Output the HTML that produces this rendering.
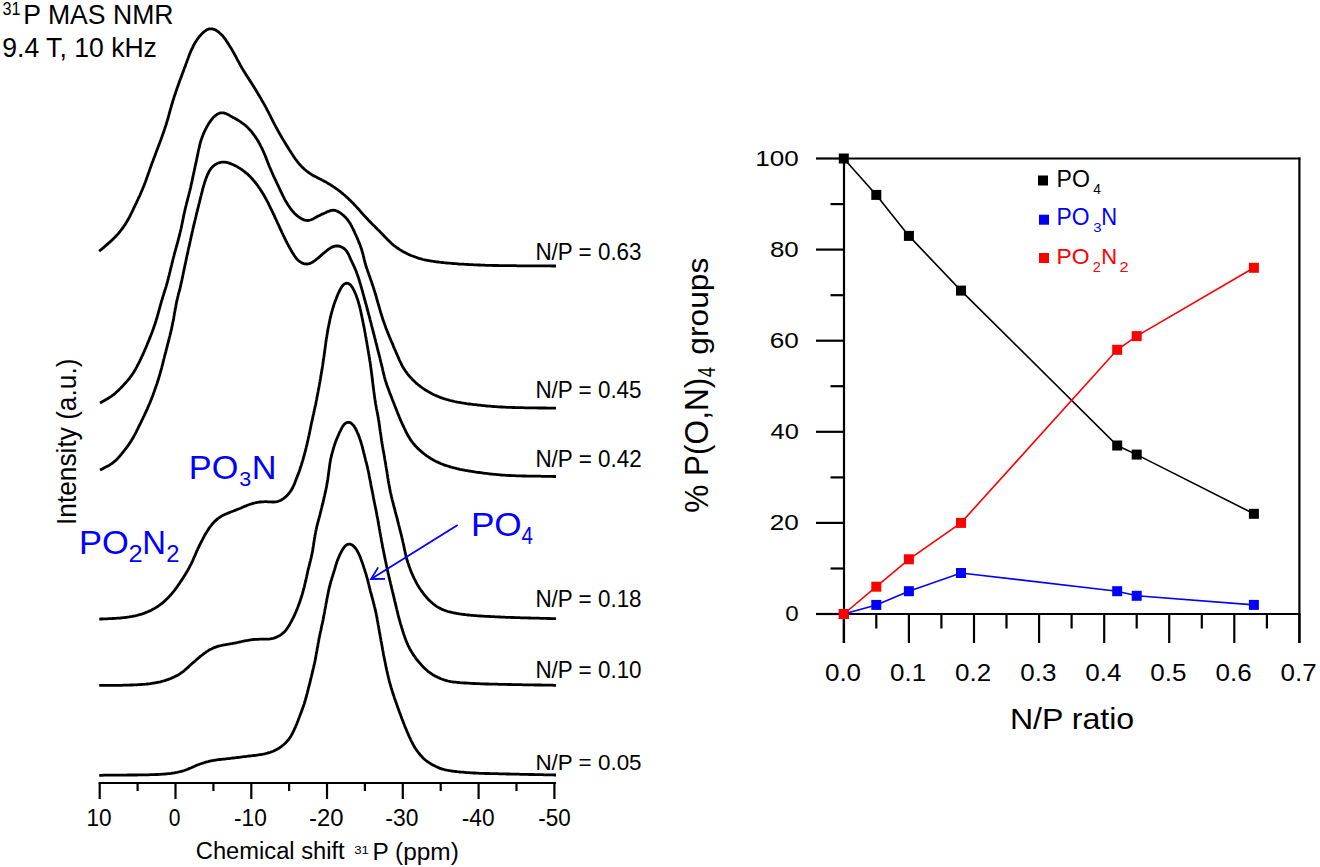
<!DOCTYPE html>
<html><head><meta charset="utf-8"><style>
html,body{margin:0;padding:0;background:#fff;width:1320px;height:867px;overflow:hidden}
svg{display:block}
text{font-family:"Liberation Sans", sans-serif;fill:#000}
</style></head><body>
<svg width="1320" height="867" viewBox="0 0 1320 867">
<rect width="1320" height="867" fill="#fff"/>
<g fill="none" stroke="#000" stroke-width="2.8" stroke-linejoin="round" stroke-linecap="butt">
<path d="M99.2,251.2 L100.3,250.2 101.5,249.3 102.6,248.3 103.8,247.3 104.9,246.4 106.1,245.4 107.2,244.4 108.3,243.4 109.5,242.4 110.6,241.4 111.7,240.4 112.8,239.4 113.8,238.3 114.9,237.3 115.9,236.2 117.0,235.1 118.0,234.0 118.9,232.8 119.9,231.7 120.8,230.5 121.7,229.3 122.6,228.1 123.5,226.9 124.3,225.7 125.2,224.4 126.0,223.1 126.7,221.9 127.5,220.6 128.2,219.3 129.0,217.9 129.7,216.6 130.3,215.3 131.0,213.9 131.7,212.6 132.3,211.3 133.0,209.9 133.6,208.5 134.3,207.2 134.9,205.8 135.5,204.5 136.2,203.1 136.8,201.8 137.5,200.4 138.1,199.0 138.7,197.7 139.4,196.3 140.0,195.0 140.6,193.6 141.2,192.2 141.8,190.8 142.4,189.5 142.9,188.1 143.5,186.7 144.1,185.3 144.6,183.9 145.2,182.5 145.7,181.1 146.2,179.7 146.7,178.3 147.2,176.9 147.7,175.4 148.2,174.0 148.7,172.6 149.2,171.2 149.7,169.8 150.2,168.4 150.7,167.0 151.2,165.5 151.7,164.1 152.2,162.7 152.8,161.3 153.3,159.9 153.8,158.5 154.3,157.1 154.9,155.7 155.4,154.3 155.9,152.9 156.4,151.5 157.0,150.1 157.5,148.7 158.0,147.3 158.6,145.9 159.1,144.5 159.6,143.1 160.1,141.7 160.7,140.2 161.2,138.8 161.7,137.4 162.2,136.0 162.7,134.6 163.2,133.2 163.7,131.8 164.2,130.4 164.7,128.9 165.1,127.5 165.6,126.1 166.1,124.7 166.5,123.2 166.9,121.8 167.4,120.4 167.8,118.9 168.2,117.5 168.6,116.0 169.0,114.6 169.4,113.1 169.8,111.7 170.2,110.2 170.6,108.8 171.0,107.4 171.4,105.9 171.8,104.5 172.3,103.0 172.7,101.6 173.1,100.2 173.6,98.7 174.0,97.3 174.5,95.9 175.0,94.5 175.5,93.0 175.9,91.6 176.4,90.2 176.9,88.8 177.4,87.4 177.9,86.0 178.4,84.5 178.9,83.1 179.4,81.7 179.9,80.3 180.5,78.9 181.0,77.5 181.5,76.1 182.0,74.7 182.5,73.3 183.1,71.9 183.6,70.5 184.1,69.1 184.6,67.6 185.2,66.2 185.7,64.8 186.2,63.4 186.7,62.0 187.2,60.6 187.7,59.2 188.3,57.8 188.8,56.4 189.3,55.0 189.9,53.6 190.4,52.2 191.0,50.8 191.6,49.5 192.3,48.1 192.9,46.8 193.6,45.4 194.3,44.1 195.1,42.8 195.9,41.5 196.7,40.3 197.5,39.0 198.4,37.8 199.3,36.7 200.3,35.5 201.3,34.4 202.4,33.3 203.4,32.3 204.6,31.4 205.8,30.5 207.0,29.8 208.3,29.2 209.6,28.9 211.0,28.8 212.4,28.9 213.8,29.3 215.1,29.8 216.4,30.5 217.6,31.3 218.8,32.2 219.9,33.2 221.0,34.2 222.1,35.2 223.1,36.4 224.0,37.5 224.9,38.7 225.8,39.9 226.6,41.2 227.4,42.4 228.3,43.7 229.0,44.9 229.8,46.2 230.6,47.5 231.4,48.8 232.2,50.1 232.9,51.4 233.7,52.7 234.4,54.0 235.1,55.3 235.8,56.6 236.5,57.9 237.2,59.3 237.9,60.6 238.6,61.9 239.3,63.2 240.0,64.6 240.8,65.9 241.5,67.2 242.2,68.5 243.0,69.8 243.8,71.1 244.6,72.3 245.4,73.6 246.2,74.9 247.0,76.1 247.8,77.4 248.6,78.6 249.4,79.9 250.3,81.2 251.1,82.4 251.9,83.7 252.7,85.0 253.5,86.2 254.3,87.5 255.0,88.8 255.8,90.1 256.6,91.4 257.4,92.6 258.1,93.9 258.9,95.2 259.7,96.5 260.4,97.8 261.2,99.1 261.9,100.4 262.7,101.7 263.4,103.0 264.2,104.3 264.9,105.6 265.6,106.9 266.3,108.2 267.0,109.6 267.7,110.9 268.4,112.2 269.1,113.6 269.8,114.9 270.5,116.2 271.1,117.6 271.8,118.9 272.5,120.3 273.1,121.6 273.8,122.9 274.5,124.3 275.2,125.6 275.9,126.9 276.6,128.2 277.3,129.6 278.1,130.9 278.8,132.2 279.5,133.5 280.3,134.8 281.0,136.1 281.8,137.4 282.6,138.7 283.3,140.0 284.1,141.3 284.9,142.5 285.6,143.8 286.4,145.1 287.2,146.4 288.0,147.6 288.8,148.9 289.6,150.2 290.4,151.4 291.2,152.7 292.1,154.0 292.9,155.2 293.7,156.5 294.5,157.7 295.4,159.0 296.3,160.2 297.2,161.4 298.1,162.5 299.0,163.7 300.0,164.8 301.0,165.9 302.1,167.0 303.1,168.0 304.2,169.1 305.4,170.0 306.5,171.0 307.7,171.9 308.9,172.8 310.2,173.6 311.4,174.4 312.7,175.2 314.0,175.9 315.3,176.6 316.7,177.3 318.0,178.0 319.4,178.7 320.7,179.3 322.0,180.0 323.4,180.7 324.7,181.4 326.0,182.1 327.3,182.9 328.6,183.7 329.9,184.4 331.1,185.2 332.4,186.0 333.6,186.9 334.9,187.7 336.1,188.6 337.3,189.4 338.5,190.3 339.7,191.2 340.9,192.2 342.1,193.1 343.2,194.1 344.4,195.0 345.5,196.0 346.6,197.0 347.7,198.0 348.8,199.1 349.9,200.1 351.0,201.2 352.0,202.2 353.1,203.3 354.1,204.4 355.2,205.5 356.2,206.6 357.2,207.7 358.2,208.8 359.2,209.9 360.2,211.0 361.1,212.2 362.1,213.3 363.1,214.4 364.1,215.5 365.1,216.6 366.2,217.7 367.2,218.8 368.2,219.9 369.3,221.0 370.3,222.1 371.4,223.1 372.4,224.2 373.5,225.3 374.6,226.3 375.6,227.4 376.7,228.4 377.7,229.5 378.8,230.5 379.9,231.6 380.9,232.7 382.0,233.7 383.0,234.8 384.0,235.9 385.1,237.0 386.1,238.1 387.2,239.2 388.2,240.2 389.3,241.3 390.3,242.3 391.4,243.3 392.6,244.3 393.7,245.3 394.9,246.2 396.1,247.1 397.3,248.0 398.6,248.8 399.8,249.6 401.1,250.4 402.4,251.2 403.7,251.9 405.0,252.6 406.3,253.3 407.7,254.0 409.1,254.6 410.4,255.2 411.8,255.8 413.2,256.3 414.6,256.8 416.0,257.3 417.4,257.8 418.9,258.3 420.3,258.7 421.8,259.1 423.2,259.5 424.7,259.8 426.1,260.1 427.6,260.4 429.1,260.7 430.5,261.0 432.0,261.2 433.5,261.4 435.0,261.6 436.5,261.8 438.0,262.0 439.5,262.2 441.0,262.3 442.4,262.5 443.9,262.7 445.4,262.8 446.9,263.0 448.4,263.1 449.9,263.2 451.4,263.4 452.9,263.5 454.4,263.6 455.9,263.7 457.4,263.8 458.9,264.0 460.4,264.1 461.9,264.2 463.4,264.2 464.9,264.3 466.4,264.4 467.9,264.5 469.4,264.6 470.9,264.6 472.4,264.7 473.9,264.8 475.4,264.9 476.9,264.9 478.3,265.0 479.8,265.0 481.3,265.1 482.8,265.1 484.3,265.2 485.8,265.3 487.3,265.3 488.8,265.3 490.3,265.4 491.8,265.4 493.3,265.5 494.8,265.5 496.3,265.5 497.8,265.5 499.3,265.6 500.8,265.6 502.3,265.6 503.8,265.6 505.3,265.6 506.8,265.7 508.3,265.7 509.8,265.7 511.3,265.7 512.8,265.7 514.3,265.7 515.8,265.7 517.3,265.8 518.8,265.8 520.3,265.8 521.8,265.8 523.3,265.8 524.8,265.8 526.3,265.8 527.8,265.8 529.3,265.8 530.8,265.8 532.3,265.8 533.8,265.8 535.3,265.9 536.8,265.9 538.3,265.9 539.8,265.9 541.3,265.9 542.8,265.9 544.3,265.9 545.8,265.9 547.3,265.9 548.8,265.9 550.3,265.9 551.8,266.0 553.2,266.0 554.6,266.0 556.0,266.0"/>
<path d="M100.0,402.9 L101.3,402.2 102.6,401.5 104.0,400.8 105.3,400.0 106.6,399.3 107.9,398.5 109.1,397.8 110.4,396.9 111.6,396.1 112.8,395.2 114.0,394.3 115.2,393.3 116.3,392.3 117.4,391.3 118.5,390.3 119.5,389.2 120.6,388.2 121.7,387.1 122.7,386.0 123.7,384.9 124.7,383.8 125.7,382.7 126.7,381.6 127.7,380.4 128.7,379.3 129.6,378.1 130.5,376.9 131.4,375.7 132.2,374.5 133.1,373.2 133.9,372.0 134.6,370.7 135.4,369.4 136.1,368.1 136.8,366.8 137.5,365.4 138.2,364.1 138.9,362.8 139.6,361.4 140.2,360.1 140.9,358.7 141.5,357.4 142.1,356.0 142.8,354.6 143.4,353.3 144.0,351.9 144.6,350.5 145.2,349.2 145.8,347.8 146.4,346.4 147.0,345.0 147.5,343.6 148.1,342.2 148.7,340.9 149.2,339.5 149.8,338.1 150.3,336.7 150.9,335.3 151.4,333.9 152.0,332.5 152.5,331.1 153.0,329.7 153.5,328.2 154.0,326.8 154.5,325.4 155.0,324.0 155.4,322.6 155.9,321.1 156.3,319.7 156.8,318.3 157.2,316.8 157.6,315.4 158.0,314.0 158.4,312.5 158.8,311.1 159.2,309.6 159.6,308.2 160.0,306.7 160.4,305.3 160.8,303.8 161.2,302.4 161.6,300.9 162.1,299.5 162.5,298.1 162.9,296.6 163.4,295.2 163.8,293.8 164.3,292.3 164.7,290.9 165.2,289.5 165.6,288.0 166.1,286.6 166.5,285.2 166.9,283.7 167.3,282.3 167.7,280.8 168.1,279.4 168.4,277.9 168.8,276.5 169.2,275.0 169.5,273.6 169.9,272.1 170.2,270.7 170.6,269.2 170.9,267.7 171.3,266.3 171.7,264.8 172.0,263.4 172.4,261.9 172.7,260.5 173.1,259.0 173.5,257.5 173.9,256.1 174.2,254.6 174.6,253.2 175.0,251.7 175.4,250.3 175.8,248.9 176.2,247.4 176.6,246.0 177.0,244.5 177.4,243.1 177.8,241.6 178.2,240.2 178.5,238.7 178.9,237.3 179.3,235.8 179.7,234.4 180.0,232.9 180.4,231.4 180.7,230.0 181.1,228.5 181.4,227.1 181.7,225.6 182.0,224.1 182.3,222.7 182.6,221.2 182.9,219.7 183.2,218.3 183.5,216.8 183.8,215.3 184.1,213.8 184.5,212.4 184.8,210.9 185.1,209.5 185.4,208.0 185.8,206.5 186.2,205.1 186.5,203.6 186.9,202.2 187.3,200.7 187.6,199.3 188.0,197.8 188.4,196.4 188.8,194.9 189.1,193.5 189.5,192.0 189.9,190.5 190.2,189.1 190.6,187.6 190.9,186.2 191.2,184.7 191.6,183.2 191.9,181.8 192.2,180.3 192.5,178.8 192.8,177.4 193.1,175.9 193.4,174.4 193.8,173.0 194.1,171.5 194.4,170.0 194.7,168.6 195.0,167.1 195.3,165.6 195.6,164.2 196.0,162.7 196.3,161.2 196.6,159.8 196.9,158.3 197.2,156.8 197.5,155.4 197.8,153.9 198.1,152.4 198.4,151.0 198.7,149.5 199.1,148.0 199.4,146.6 199.7,145.1 200.1,143.7 200.5,142.2 200.9,140.8 201.4,139.4 201.9,137.9 202.4,136.5 203.0,135.1 203.5,133.7 204.1,132.4 204.7,131.0 205.4,129.7 206.1,128.3 206.7,127.0 207.5,125.7 208.2,124.4 209.0,123.1 209.9,121.9 210.7,120.7 211.7,119.5 212.6,118.3 213.6,117.3 214.7,116.2 215.8,115.3 217.0,114.4 218.2,113.7 219.5,113.2 220.9,112.8 222.3,112.8 223.7,112.9 225.0,113.3 226.4,113.8 227.7,114.4 229.0,115.1 230.3,115.9 231.6,116.6 232.9,117.4 234.2,118.1 235.5,118.8 236.8,119.6 238.1,120.3 239.4,121.1 240.7,121.9 241.9,122.8 243.1,123.6 244.3,124.5 245.5,125.5 246.6,126.5 247.7,127.5 248.7,128.6 249.7,129.7 250.7,130.8 251.7,131.9 252.6,133.1 253.5,134.3 254.4,135.5 255.3,136.7 256.1,138.0 256.9,139.2 257.7,140.5 258.5,141.8 259.2,143.1 259.9,144.4 260.6,145.8 261.3,147.1 262.0,148.4 262.6,149.8 263.2,151.2 263.8,152.5 264.4,153.9 265.0,155.3 265.6,156.7 266.1,158.1 266.7,159.5 267.2,160.9 267.7,162.3 268.3,163.7 268.8,165.1 269.4,166.5 270.0,167.8 270.6,169.2 271.2,170.6 271.8,172.0 272.4,173.3 273.0,174.7 273.6,176.1 274.2,177.4 274.9,178.8 275.5,180.2 276.2,181.5 276.8,182.9 277.4,184.2 278.1,185.6 278.7,186.9 279.4,188.3 280.0,189.6 280.6,191.0 281.3,192.4 281.9,193.7 282.6,195.1 283.2,196.4 283.9,197.7 284.6,199.1 285.3,200.4 286.1,201.7 286.9,203.0 287.6,204.2 288.4,205.5 289.3,206.8 290.1,208.0 291.0,209.2 291.9,210.4 292.9,211.5 293.9,212.6 294.9,213.7 296.0,214.7 297.1,215.7 298.3,216.6 299.5,217.5 300.8,218.3 302.0,219.0 303.4,219.6 304.7,220.1 306.1,220.4 307.5,220.5 308.9,220.4 310.3,220.0 311.7,219.5 313.0,218.9 314.3,218.2 315.6,217.5 316.9,216.8 318.2,216.1 319.6,215.4 320.9,214.8 322.3,214.1 323.7,213.5 325.0,212.9 326.4,212.2 327.7,211.6 329.1,211.1 330.4,210.6 331.8,210.3 333.2,210.2 334.6,210.4 336.0,210.7 337.3,211.2 338.6,211.9 339.9,212.7 341.1,213.5 342.3,214.5 343.4,215.4 344.5,216.4 345.6,217.5 346.6,218.6 347.5,219.7 348.4,220.9 349.3,222.2 350.1,223.4 350.8,224.7 351.6,226.0 352.2,227.4 352.9,228.7 353.5,230.0 354.2,231.4 354.8,232.8 355.4,234.1 356.1,235.5 356.7,236.9 357.3,238.2 357.9,239.6 358.4,241.0 359.0,242.4 359.6,243.8 360.1,245.2 360.6,246.6 361.1,248.0 361.6,249.4 362.0,250.9 362.4,252.3 362.8,253.7 363.2,255.2 363.5,256.7 363.9,258.1 364.2,259.6 364.6,261.0 365.0,262.5 365.4,263.9 365.8,265.4 366.2,266.8 366.7,268.2 367.2,269.6 367.7,271.1 368.2,272.5 368.7,273.9 369.2,275.3 369.7,276.7 370.2,278.1 370.7,279.6 371.2,281.0 371.7,282.4 372.1,283.8 372.6,285.2 373.1,286.6 373.6,288.1 374.0,289.5 374.5,290.9 374.9,292.4 375.3,293.8 375.8,295.2 376.2,296.7 376.6,298.1 377.0,299.6 377.4,301.0 377.8,302.5 378.2,303.9 378.6,305.3 379.1,306.8 379.5,308.2 379.9,309.7 380.3,311.1 380.7,312.5 381.2,314.0 381.6,315.4 382.1,316.8 382.5,318.3 383.0,319.7 383.5,321.1 384.0,322.5 384.5,323.9 385.0,325.4 385.5,326.8 386.0,328.2 386.6,329.6 387.1,331.0 387.7,332.4 388.2,333.7 388.8,335.1 389.3,336.5 389.9,337.9 390.5,339.3 391.1,340.7 391.7,342.1 392.3,343.4 392.9,344.8 393.4,346.2 394.0,347.6 394.6,349.0 395.2,350.3 395.8,351.7 396.4,353.1 397.0,354.5 397.6,355.9 398.2,357.2 398.8,358.6 399.4,360.0 400.0,361.3 400.7,362.7 401.3,364.0 402.0,365.4 402.7,366.7 403.5,368.0 404.3,369.2 405.1,370.5 405.9,371.7 406.8,372.9 407.7,374.1 408.7,375.3 409.6,376.4 410.6,377.5 411.7,378.6 412.7,379.7 413.8,380.8 414.8,381.8 415.9,382.8 417.1,383.8 418.2,384.8 419.4,385.7 420.6,386.6 421.8,387.5 423.0,388.4 424.2,389.2 425.5,390.0 426.8,390.8 428.1,391.6 429.4,392.3 430.7,393.0 432.0,393.7 433.4,394.4 434.7,395.0 436.1,395.6 437.5,396.2 438.8,396.8 440.2,397.4 441.6,397.9 443.1,398.4 444.5,398.8 445.9,399.3 447.4,399.7 448.8,400.1 450.3,400.5 451.7,400.8 453.2,401.1 454.6,401.5 456.1,401.8 457.6,402.1 459.1,402.3 460.5,402.6 462.0,402.9 463.5,403.1 465.0,403.3 466.4,403.6 467.9,403.8 469.4,404.0 470.9,404.2 472.4,404.4 473.9,404.6 475.4,404.7 476.9,404.9 478.4,405.1 479.8,405.2 481.3,405.4 482.8,405.6 484.3,405.7 485.8,405.8 487.3,406.0 488.8,406.1 490.3,406.2 491.8,406.4 493.3,406.5 494.8,406.6 496.3,406.7 497.8,406.8 499.3,406.9 500.8,407.0 502.3,407.0 503.8,407.1 505.3,407.2 506.8,407.3 508.3,407.3 509.8,407.4 511.3,407.4 512.8,407.5 514.3,407.5 515.8,407.6 517.3,407.6 518.8,407.7 520.3,407.7 521.8,407.7 523.3,407.7 524.8,407.8 526.3,407.8 527.8,407.8 529.3,407.8 530.8,407.9 532.3,407.9 533.8,407.9 535.3,407.9 536.8,407.9 538.3,408.0 539.8,408.0 541.3,408.0 542.8,408.0 544.3,408.0 545.8,408.0 547.2,408.1 548.7,408.1 550.2,408.1 551.7,408.1 553.2,408.2 554.6,408.2 556.0,408.2"/>
<path d="M100.0,470.1 L101.3,469.4 102.7,468.7 104.0,468.0 105.3,467.3 106.7,466.6 108.0,465.9 109.3,465.2 110.5,464.4 111.8,463.6 113.0,462.7 114.1,461.7 115.3,460.8 116.4,459.7 117.4,458.7 118.4,457.6 119.4,456.5 120.4,455.3 121.4,454.2 122.3,453.0 123.3,451.8 124.2,450.7 125.1,449.5 126.0,448.3 126.9,447.1 127.8,445.9 128.7,444.7 129.5,443.4 130.3,442.2 131.2,440.9 131.9,439.6 132.7,438.4 133.5,437.1 134.2,435.7 134.9,434.4 135.6,433.1 136.3,431.8 136.9,430.4 137.6,429.1 138.3,427.7 138.9,426.4 139.6,425.0 140.3,423.7 140.9,422.3 141.6,421.0 142.2,419.6 142.9,418.3 143.5,416.9 144.2,415.6 144.8,414.2 145.4,412.9 146.1,411.5 146.7,410.1 147.3,408.8 147.9,407.4 148.5,406.0 149.1,404.6 149.7,403.3 150.3,401.9 150.8,400.5 151.4,399.1 151.9,397.7 152.5,396.3 153.0,394.9 153.5,393.5 154.0,392.1 154.5,390.7 155.0,389.3 155.5,387.8 156.0,386.4 156.5,385.0 157.0,383.6 157.4,382.2 157.9,380.7 158.4,379.3 158.8,377.9 159.2,376.4 159.7,375.0 160.1,373.5 160.5,372.1 160.9,370.7 161.3,369.2 161.7,367.8 162.0,366.3 162.4,364.9 162.8,363.4 163.2,362.0 163.5,360.5 163.9,359.0 164.3,357.6 164.6,356.1 165.0,354.7 165.4,353.2 165.8,351.8 166.1,350.3 166.5,348.9 166.9,347.4 167.3,346.0 167.6,344.5 168.0,343.1 168.4,341.6 168.8,340.2 169.1,338.7 169.5,337.3 169.9,335.8 170.2,334.3 170.6,332.9 170.9,331.4 171.3,330.0 171.6,328.5 171.9,327.0 172.2,325.6 172.5,324.1 172.8,322.6 173.1,321.2 173.4,319.7 173.7,318.2 173.9,316.7 174.2,315.3 174.4,313.8 174.7,312.3 175.0,310.8 175.2,309.3 175.5,307.9 175.8,306.4 176.0,304.9 176.3,303.4 176.6,302.0 176.9,300.5 177.3,299.1 177.6,297.6 178.0,296.1 178.3,294.7 178.7,293.2 179.1,291.8 179.5,290.3 179.9,288.9 180.2,287.4 180.6,286.0 180.9,284.5 181.2,283.0 181.5,281.6 181.9,280.1 182.2,278.6 182.5,277.2 182.8,275.7 183.1,274.2 183.4,272.8 183.7,271.3 184.0,269.8 184.3,268.4 184.6,266.9 184.9,265.4 185.3,264.0 185.6,262.5 185.9,261.0 186.2,259.6 186.5,258.1 186.8,256.6 187.1,255.2 187.5,253.7 187.8,252.2 188.1,250.8 188.4,249.3 188.7,247.8 189.1,246.4 189.4,244.9 189.7,243.4 190.0,242.0 190.4,240.5 190.7,239.0 191.0,237.6 191.3,236.1 191.7,234.7 192.0,233.2 192.3,231.7 192.7,230.3 193.0,228.8 193.3,227.3 193.7,225.9 194.0,224.4 194.4,223.0 194.7,221.5 195.1,220.0 195.4,218.6 195.8,217.1 196.1,215.7 196.5,214.2 196.8,212.7 197.2,211.3 197.5,209.8 197.9,208.4 198.3,206.9 198.6,205.5 199.0,204.0 199.4,202.6 199.7,201.1 200.1,199.7 200.5,198.2 200.8,196.7 201.2,195.3 201.5,193.8 201.9,192.4 202.3,190.9 202.6,189.5 203.0,188.0 203.4,186.6 203.8,185.1 204.3,183.7 204.7,182.3 205.2,180.8 205.7,179.4 206.2,178.0 206.8,176.6 207.3,175.2 207.9,173.9 208.6,172.5 209.2,171.2 210.0,169.9 210.9,168.7 211.8,167.6 212.8,166.5 213.9,165.6 215.1,164.7 216.4,163.9 217.7,163.3 219.1,162.8 220.5,162.4 221.9,162.2 223.4,162.1 224.8,162.2 226.3,162.4 227.7,162.7 229.1,163.1 230.5,163.6 231.9,164.2 233.3,164.8 234.6,165.4 236.0,166.1 237.3,166.8 238.6,167.6 239.9,168.4 241.1,169.2 242.3,170.0 243.5,170.9 244.7,171.8 245.9,172.8 247.0,173.7 248.2,174.7 249.2,175.8 250.3,176.8 251.3,177.9 252.3,179.0 253.3,180.2 254.3,181.3 255.2,182.5 256.2,183.6 257.1,184.8 258.0,186.0 258.8,187.3 259.7,188.5 260.5,189.7 261.3,191.0 262.1,192.3 262.9,193.6 263.7,194.8 264.4,196.1 265.2,197.4 265.9,198.8 266.6,200.1 267.3,201.4 268.0,202.7 268.7,204.1 269.3,205.4 270.0,206.8 270.6,208.1 271.3,209.5 272.0,210.8 272.6,212.2 273.2,213.5 273.9,214.9 274.5,216.2 275.1,217.6 275.8,219.0 276.4,220.3 277.0,221.7 277.6,223.1 278.3,224.4 278.9,225.8 279.5,227.2 280.1,228.5 280.8,229.9 281.4,231.2 282.0,232.6 282.7,233.9 283.3,235.3 284.0,236.7 284.6,238.0 285.3,239.4 285.9,240.7 286.6,242.0 287.3,243.4 288.0,244.7 288.7,246.0 289.4,247.3 290.2,248.7 290.9,250.0 291.6,251.3 292.4,252.6 293.2,253.8 294.0,255.1 294.8,256.3 295.7,257.5 296.6,258.7 297.6,259.8 298.7,260.8 299.9,261.6 301.1,262.4 302.4,263.1 303.8,263.6 305.2,263.9 306.6,264.0 308.0,263.9 309.3,263.6 310.7,263.1 312.0,262.5 313.2,261.7 314.5,260.9 315.7,260.0 316.8,259.0 318.0,258.1 319.1,257.1 320.3,256.1 321.4,255.1 322.5,254.2 323.7,253.2 324.8,252.2 326.0,251.3 327.1,250.3 328.3,249.4 329.5,248.6 330.8,247.8 332.1,247.1 333.4,246.6 334.8,246.2 336.2,246.0 337.6,246.0 339.1,246.2 340.5,246.6 341.8,247.2 343.1,247.8 344.2,248.7 345.3,249.6 346.3,250.7 347.1,251.9 347.9,253.2 348.6,254.5 349.2,255.8 349.8,257.2 350.4,258.6 351.0,259.9 351.7,261.3 352.3,262.7 352.9,264.0 353.6,265.4 354.2,266.7 354.8,268.1 355.4,269.5 356.0,270.9 356.5,272.3 357.0,273.7 357.5,275.1 358.0,276.5 358.5,277.9 359.0,279.4 359.4,280.8 359.8,282.2 360.3,283.7 360.7,285.1 361.1,286.5 361.5,288.0 361.9,289.4 362.3,290.9 362.7,292.3 363.1,293.8 363.5,295.2 363.9,296.7 364.3,298.1 364.7,299.6 365.1,301.0 365.5,302.5 365.9,303.9 366.3,305.3 366.7,306.8 367.1,308.2 367.4,309.7 367.8,311.1 368.2,312.6 368.6,314.0 369.0,315.5 369.4,316.9 369.8,318.4 370.1,319.8 370.5,321.3 370.9,322.7 371.3,324.2 371.6,325.6 372.0,327.1 372.4,328.6 372.8,330.0 373.1,331.5 373.5,332.9 373.9,334.4 374.3,335.8 374.6,337.3 375.0,338.7 375.4,340.2 375.7,341.6 376.1,343.1 376.5,344.5 376.9,346.0 377.2,347.4 377.6,348.9 377.9,350.4 378.3,351.8 378.7,353.3 379.0,354.7 379.4,356.2 379.8,357.6 380.1,359.1 380.5,360.5 380.8,362.0 381.2,363.5 381.6,364.9 381.9,366.4 382.3,367.8 382.6,369.3 382.9,370.8 383.3,372.2 383.6,373.7 384.0,375.1 384.3,376.6 384.7,378.0 385.1,379.5 385.5,380.9 386.0,382.3 386.5,383.8 386.9,385.2 387.4,386.6 388.0,388.0 388.5,389.4 389.0,390.8 389.5,392.2 390.0,393.6 390.6,395.0 391.1,396.4 391.7,397.8 392.2,399.2 392.8,400.6 393.3,402.0 393.9,403.4 394.4,404.8 395.0,406.2 395.5,407.6 396.1,409.0 396.6,410.4 397.2,411.8 397.7,413.2 398.3,414.6 398.9,416.0 399.4,417.3 400.0,418.7 400.6,420.1 401.2,421.5 401.8,422.9 402.4,424.2 403.1,425.6 403.7,426.9 404.3,428.3 405.0,429.6 405.6,431.0 406.3,432.3 407.0,433.7 407.7,435.0 408.4,436.3 409.2,437.6 410.0,438.9 410.8,440.1 411.7,441.3 412.6,442.5 413.5,443.7 414.5,444.8 415.5,446.0 416.5,447.0 417.5,448.1 418.6,449.1 419.7,450.2 420.9,451.2 422.0,452.1 423.2,453.1 424.3,454.0 425.5,454.9 426.7,455.8 428.0,456.7 429.2,457.5 430.5,458.3 431.7,459.1 433.0,459.8 434.3,460.6 435.7,461.3 437.0,461.9 438.4,462.5 439.8,463.1 441.1,463.7 442.5,464.2 443.9,464.8 445.4,465.3 446.8,465.7 448.2,466.2 449.6,466.6 451.1,467.1 452.5,467.5 454.0,467.9 455.4,468.2 456.9,468.6 458.3,468.9 459.8,469.3 461.3,469.6 462.7,469.9 464.2,470.2 465.7,470.5 467.2,470.7 468.6,471.0 470.1,471.2 471.6,471.4 473.1,471.6 474.6,471.9 476.1,472.1 477.5,472.3 479.0,472.5 480.5,472.7 482.0,472.9 483.5,473.1 485.0,473.3 486.5,473.4 487.9,473.6 489.4,473.8 490.9,474.0 492.4,474.1 493.9,474.3 495.4,474.4 496.9,474.6 498.4,474.7 499.9,474.8 501.4,475.0 502.9,475.1 504.4,475.2 505.9,475.3 507.4,475.4 508.9,475.5 510.4,475.5 511.9,475.6 513.4,475.7 514.9,475.7 516.4,475.8 517.9,475.8 519.4,475.9 520.9,475.9 522.4,476.0 523.9,476.0 525.4,476.0 526.9,476.1 528.4,476.1 529.9,476.1 531.4,476.1 532.9,476.2 534.4,476.2 535.9,476.2 537.4,476.2 538.9,476.2 540.4,476.2 541.8,476.3 543.3,476.3 544.8,476.3 546.3,476.3 547.8,476.4 549.3,476.4 550.8,476.4 552.3,476.4 553.7,476.5 555.1,476.5 556.0,476.5"/>
<path d="M99.3,619.1 L100.8,619.0 102.3,619.0 103.8,618.9 105.3,618.9 106.8,618.8 108.3,618.7 109.8,618.7 111.3,618.6 112.8,618.5 114.3,618.4 115.8,618.3 117.3,618.2 118.8,618.1 120.3,618.0 121.8,617.8 123.2,617.6 124.7,617.5 126.2,617.3 127.7,617.1 129.2,616.9 130.7,616.6 132.2,616.4 133.6,616.1 135.1,615.8 136.6,615.5 138.0,615.1 139.5,614.7 140.9,614.3 142.3,613.9 143.7,613.4 145.1,612.9 146.5,612.3 147.9,611.7 149.3,611.1 150.7,610.5 152.0,609.8 153.3,609.1 154.6,608.4 155.9,607.6 157.2,606.8 158.4,606.0 159.6,605.1 160.8,604.2 162.0,603.3 163.2,602.3 164.3,601.4 165.4,600.4 166.5,599.3 167.6,598.3 168.6,597.2 169.6,596.1 170.6,595.0 171.6,593.9 172.6,592.7 173.5,591.6 174.5,590.4 175.4,589.2 176.3,588.0 177.1,586.8 178.0,585.5 178.8,584.3 179.7,583.1 180.5,581.8 181.3,580.6 182.2,579.3 183.0,578.1 183.8,576.8 184.6,575.5 185.4,574.2 186.1,573.0 186.9,571.7 187.7,570.4 188.4,569.1 189.1,567.8 189.8,566.4 190.5,565.1 191.2,563.8 191.9,562.4 192.5,561.1 193.1,559.7 193.7,558.3 194.3,556.9 194.9,555.6 195.5,554.2 196.1,552.8 196.7,551.4 197.3,550.1 197.9,548.7 198.6,547.4 199.2,546.0 199.9,544.7 200.5,543.3 201.2,542.0 201.9,540.6 202.6,539.3 203.3,538.0 204.0,536.6 204.7,535.3 205.4,534.0 206.2,532.7 207.0,531.5 207.8,530.2 208.6,528.9 209.5,527.7 210.4,526.5 211.3,525.3 212.2,524.2 213.2,523.0 214.2,521.9 215.3,520.9 216.4,519.9 217.5,518.9 218.7,518.0 219.9,517.2 221.2,516.4 222.5,515.6 223.8,515.0 225.2,514.3 226.5,513.7 227.9,513.1 229.3,512.6 230.7,512.0 232.1,511.5 233.5,511.0 234.9,510.4 236.3,509.9 237.7,509.3 239.1,508.7 240.5,508.2 241.9,507.6 243.2,507.0 244.6,506.4 246.0,505.9 247.4,505.3 248.8,504.8 250.2,504.3 251.6,503.8 253.1,503.4 254.5,503.0 256.0,502.7 257.5,502.4 258.9,502.2 260.4,502.0 261.9,501.9 263.4,501.8 264.9,501.7 266.4,501.7 267.9,501.8 269.4,501.9 270.9,501.9 272.4,502.0 273.9,502.0 275.3,501.8 276.8,501.6 278.2,501.3 279.6,500.8 280.9,500.2 282.2,499.5 283.4,498.6 284.6,497.7 285.7,496.8 286.8,495.8 287.8,494.7 288.8,493.5 289.7,492.4 290.6,491.2 291.4,489.9 292.2,488.6 292.8,487.3 293.5,485.9 294.1,484.6 294.7,483.2 295.2,481.8 295.8,480.4 296.3,479.0 296.9,477.6 297.4,476.2 297.9,474.8 298.5,473.4 299.0,472.0 299.5,470.6 300.0,469.2 300.4,467.7 300.9,466.3 301.4,464.9 301.8,463.4 302.2,462.0 302.7,460.6 303.1,459.1 303.5,457.7 303.9,456.3 304.3,454.8 304.7,453.4 305.1,451.9 305.5,450.5 305.8,449.0 306.2,447.5 306.5,446.1 306.9,444.6 307.2,443.2 307.6,441.7 307.9,440.2 308.2,438.8 308.5,437.3 308.9,435.8 309.2,434.4 309.5,432.9 309.8,431.4 310.1,430.0 310.4,428.5 310.7,427.0 311.0,425.6 311.3,424.1 311.6,422.6 312.0,421.2 312.3,419.7 312.6,418.2 312.9,416.8 313.2,415.3 313.6,413.8 313.9,412.4 314.2,410.9 314.5,409.4 314.8,408.0 315.1,406.5 315.5,405.0 315.8,403.6 316.1,402.1 316.4,400.6 316.7,399.2 316.9,397.7 317.2,396.2 317.5,394.7 317.8,393.3 318.1,391.8 318.3,390.3 318.6,388.9 318.9,387.4 319.2,385.9 319.4,384.4 319.7,382.9 320.0,381.5 320.2,380.0 320.5,378.5 320.7,377.0 321.0,375.6 321.2,374.1 321.5,372.6 321.7,371.1 322.0,369.6 322.2,368.2 322.4,366.7 322.7,365.2 322.9,363.7 323.1,362.2 323.3,360.7 323.5,359.3 323.8,357.8 324.0,356.3 324.2,354.8 324.4,353.3 324.6,351.8 324.8,350.3 325.0,348.9 325.2,347.4 325.4,345.9 325.6,344.4 325.8,342.9 326.0,341.4 326.2,339.9 326.4,338.5 326.7,337.0 326.9,335.5 327.2,334.0 327.4,332.5 327.7,331.1 327.9,329.6 328.2,328.1 328.5,326.6 328.8,325.2 329.1,323.7 329.4,322.2 329.7,320.8 330.0,319.3 330.3,317.8 330.7,316.4 331.0,314.9 331.4,313.5 331.8,312.0 332.2,310.6 332.6,309.1 333.0,307.7 333.5,306.3 333.9,304.8 334.4,303.4 334.9,302.0 335.4,300.6 336.0,299.2 336.5,297.8 337.1,296.4 337.6,295.0 338.2,293.6 338.8,292.3 339.5,290.9 340.1,289.6 340.8,288.3 341.6,287.0 342.5,285.8 343.4,284.8 344.4,284.0 345.6,283.4 346.7,283.2 347.9,283.3 349.0,283.8 350.0,284.6 351.0,285.6 351.9,286.8 352.7,288.0 353.4,289.3 354.1,290.6 354.7,292.0 355.3,293.4 355.9,294.7 356.4,296.1 356.9,297.6 357.4,299.0 357.9,300.4 358.3,301.8 358.7,303.3 359.1,304.7 359.5,306.2 359.9,307.6 360.2,309.1 360.6,310.5 360.9,312.0 361.2,313.5 361.5,314.9 361.8,316.4 362.1,317.9 362.4,319.3 362.7,320.8 363.0,322.3 363.3,323.7 363.6,325.2 363.9,326.7 364.2,328.2 364.5,329.6 364.7,331.1 365.0,332.6 365.3,334.1 365.5,335.5 365.8,337.0 366.1,338.5 366.3,340.0 366.6,341.4 366.9,342.9 367.1,344.4 367.4,345.9 367.6,347.4 367.9,348.8 368.1,350.3 368.4,351.8 368.6,353.3 368.9,354.8 369.1,356.2 369.4,357.7 369.6,359.2 369.8,360.7 370.1,362.2 370.3,363.6 370.5,365.1 370.7,366.6 370.9,368.1 371.1,369.6 371.3,371.1 371.5,372.6 371.7,374.0 371.9,375.5 372.1,377.0 372.2,378.5 372.4,380.0 372.6,381.5 372.8,383.0 373.0,384.5 373.1,386.0 373.3,387.4 373.5,388.9 373.7,390.4 373.9,391.9 374.1,393.4 374.3,394.9 374.5,396.4 374.7,397.9 374.9,399.3 375.2,400.8 375.4,402.3 375.6,403.8 375.9,405.3 376.2,406.7 376.4,408.2 376.7,409.7 377.0,411.2 377.3,412.6 377.6,414.1 377.8,415.6 378.1,417.1 378.4,418.5 378.6,420.0 378.9,421.5 379.1,423.0 379.3,424.5 379.5,425.9 379.7,427.4 379.9,428.9 380.1,430.4 380.3,431.9 380.6,433.4 380.8,434.9 381.0,436.3 381.2,437.8 381.4,439.3 381.6,440.8 381.9,442.3 382.1,443.8 382.4,445.2 382.6,446.7 382.9,448.2 383.1,449.7 383.4,451.1 383.7,452.6 383.9,454.1 384.2,455.6 384.4,457.1 384.7,458.5 384.9,460.0 385.2,461.5 385.5,463.0 385.7,464.4 385.9,465.9 386.2,467.4 386.4,468.9 386.7,470.4 386.9,471.8 387.1,473.3 387.4,474.8 387.6,476.3 387.8,477.8 388.1,479.3 388.3,480.7 388.6,482.2 388.8,483.7 389.1,485.2 389.4,486.6 389.6,488.1 389.9,489.6 390.2,491.1 390.5,492.5 390.9,494.0 391.2,495.5 391.5,496.9 391.9,498.4 392.2,499.8 392.6,501.3 393.0,502.7 393.3,504.2 393.7,505.6 394.1,507.1 394.5,508.5 394.9,510.0 395.2,511.4 395.6,512.9 396.0,514.3 396.4,515.8 396.8,517.2 397.2,518.7 397.5,520.2 397.9,521.6 398.3,523.1 398.6,524.5 399.0,526.0 399.4,527.4 399.7,528.9 400.1,530.3 400.5,531.8 400.8,533.2 401.2,534.7 401.6,536.2 401.9,537.6 402.3,539.1 402.6,540.5 402.9,542.0 403.3,543.5 403.6,544.9 403.9,546.4 404.2,547.9 404.5,549.3 404.8,550.8 405.1,552.3 405.4,553.7 405.8,555.2 406.1,556.6 406.5,558.1 406.9,559.5 407.4,561.0 407.8,562.4 408.3,563.8 408.8,565.2 409.3,566.7 409.8,568.1 410.3,569.5 410.8,570.9 411.4,572.3 412.0,573.6 412.6,575.0 413.2,576.4 413.8,577.7 414.5,579.1 415.2,580.4 415.9,581.8 416.6,583.1 417.3,584.4 418.1,585.7 418.8,587.0 419.6,588.2 420.5,589.5 421.3,590.7 422.2,591.9 423.1,593.1 424.0,594.3 424.9,595.5 425.9,596.6 426.9,597.8 427.9,598.9 428.9,599.9 430.0,601.0 431.1,602.0 432.2,603.0 433.4,604.0 434.6,604.9 435.8,605.8 437.0,606.6 438.3,607.4 439.6,608.1 440.9,608.8 442.2,609.4 443.6,610.0 445.0,610.5 446.4,611.0 447.9,611.5 449.3,611.8 450.8,612.2 452.2,612.5 453.7,612.8 455.2,613.1 456.7,613.4 458.1,613.6 459.6,613.9 461.1,614.1 462.6,614.3 464.1,614.5 465.6,614.7 467.0,614.8 468.5,615.0 470.0,615.2 471.5,615.3 473.0,615.4 474.5,615.6 476.0,615.7 477.5,615.8 479.0,615.9 480.5,616.0 482.0,616.1 483.5,616.2 485.0,616.3 486.5,616.3 488.0,616.4 489.5,616.5 491.0,616.6 492.5,616.6 494.0,616.7 495.5,616.8 497.0,616.9 498.5,616.9 500.0,617.0 501.5,617.1 503.0,617.1 504.5,617.2 506.0,617.3 507.5,617.3 509.0,617.4 510.5,617.4 512.0,617.5 513.5,617.5 515.0,617.6 516.5,617.6 518.0,617.7 519.5,617.7 521.0,617.8 522.5,617.8 524.0,617.9 525.4,617.9 526.9,617.9 528.4,618.0 529.9,618.0 531.4,618.1 532.9,618.1 534.4,618.1 535.9,618.2 537.4,618.2 538.9,618.2 540.4,618.3 541.9,618.3 543.4,618.4 544.9,618.4 546.4,618.4 547.9,618.5 549.4,618.5 550.9,618.6 552.3,618.6 553.7,618.6 555.1,618.7 556.0,618.7"/>
<path d="M99.2,685.4 L100.7,685.4 102.2,685.4 103.7,685.4 105.2,685.4 106.7,685.4 108.2,685.4 109.7,685.4 111.2,685.3 112.7,685.3 114.2,685.3 115.7,685.3 117.2,685.3 118.7,685.3 120.2,685.3 121.7,685.3 123.2,685.2 124.7,685.2 126.2,685.2 127.7,685.1 129.2,685.1 130.7,685.0 132.2,685.0 133.7,684.9 135.2,684.8 136.7,684.8 138.2,684.7 139.7,684.6 141.2,684.5 142.7,684.4 144.2,684.3 145.7,684.2 147.2,684.0 148.6,683.8 150.1,683.7 151.6,683.4 153.1,683.2 154.6,683.0 156.1,682.7 157.5,682.4 159.0,682.1 160.5,681.8 161.9,681.4 163.4,681.0 164.8,680.6 166.2,680.1 167.6,679.7 169.0,679.1 170.4,678.6 171.8,678.0 173.2,677.4 174.6,676.8 175.9,676.1 177.2,675.4 178.5,674.7 179.8,673.9 181.0,673.0 182.2,672.2 183.4,671.3 184.6,670.3 185.7,669.3 186.8,668.4 188.0,667.4 189.1,666.3 190.2,665.3 191.3,664.3 192.4,663.3 193.5,662.3 194.7,661.3 195.8,660.3 196.9,659.3 198.0,658.4 199.2,657.4 200.3,656.4 201.5,655.5 202.7,654.6 203.9,653.7 205.1,652.8 206.3,651.9 207.6,651.1 208.8,650.3 210.1,649.6 211.5,648.9 212.8,648.2 214.2,647.6 215.6,647.1 217.0,646.6 218.4,646.2 219.8,645.8 221.3,645.5 222.8,645.2 224.3,644.9 225.7,644.7 227.2,644.4 228.7,644.2 230.2,643.9 231.6,643.7 233.1,643.4 234.6,643.1 236.1,642.8 237.5,642.5 239.0,642.2 240.5,641.8 241.9,641.5 243.4,641.2 244.9,640.9 246.3,640.6 247.8,640.4 249.3,640.1 250.8,639.9 252.3,639.7 253.7,639.5 255.2,639.4 256.7,639.3 258.2,639.3 259.7,639.2 261.2,639.2 262.7,639.2 264.2,639.2 265.7,639.2 267.2,639.2 268.7,639.1 270.2,638.9 271.6,638.6 273.1,638.3 274.5,637.9 275.9,637.4 277.3,636.8 278.6,636.1 279.9,635.4 281.1,634.6 282.3,633.7 283.5,632.7 284.5,631.7 285.5,630.6 286.4,629.4 287.3,628.2 288.1,627.0 288.9,625.7 289.7,624.4 290.4,623.1 291.1,621.8 291.9,620.5 292.5,619.2 293.2,617.8 293.9,616.5 294.5,615.1 295.1,613.7 295.7,612.4 296.3,611.0 296.9,609.6 297.4,608.2 298.0,606.8 298.5,605.4 299.0,604.0 299.5,602.6 300.0,601.2 300.5,599.7 301.0,598.3 301.4,596.9 301.9,595.5 302.3,594.0 302.7,592.6 303.1,591.1 303.5,589.7 303.9,588.2 304.3,586.8 304.6,585.3 305.0,583.9 305.3,582.4 305.7,581.0 306.0,579.5 306.3,578.0 306.7,576.6 307.0,575.1 307.3,573.6 307.6,572.2 307.9,570.7 308.3,569.2 308.6,567.8 309.0,566.3 309.4,564.9 309.7,563.4 310.1,562.0 310.5,560.5 310.8,559.1 311.2,557.6 311.5,556.1 311.8,554.7 312.1,553.2 312.4,551.7 312.7,550.3 312.9,548.8 313.1,547.3 313.4,545.8 313.6,544.3 313.8,542.8 314.1,541.4 314.3,539.9 314.5,538.4 314.8,536.9 315.0,535.4 315.3,534.0 315.6,532.5 315.8,531.0 316.2,529.6 316.5,528.1 316.8,526.6 317.2,525.2 317.6,523.7 317.9,522.3 318.3,520.8 318.7,519.4 319.1,517.9 319.5,516.5 319.9,515.0 320.2,513.6 320.6,512.1 321.0,510.7 321.3,509.2 321.7,507.8 322.0,506.3 322.4,504.8 322.8,503.4 323.1,501.9 323.5,500.5 323.8,499.0 324.1,497.5 324.5,496.1 324.8,494.6 325.1,493.2 325.5,491.7 325.8,490.2 326.1,488.8 326.4,487.3 326.7,485.8 326.9,484.3 327.2,482.9 327.4,481.4 327.7,479.9 327.9,478.4 328.1,476.9 328.3,475.4 328.5,474.0 328.7,472.5 328.9,471.0 329.1,469.5 329.3,468.0 329.5,466.5 329.7,465.0 329.9,463.6 330.2,462.1 330.4,460.6 330.7,459.1 331.0,457.7 331.4,456.2 331.7,454.7 332.1,453.3 332.5,451.8 332.9,450.4 333.3,449.0 333.7,447.5 334.2,446.1 334.6,444.7 335.1,443.3 335.6,441.8 336.2,440.4 336.7,439.0 337.3,437.7 337.9,436.3 338.5,434.9 339.1,433.5 339.7,432.2 340.4,430.8 341.0,429.5 341.7,428.1 342.4,426.9 343.2,425.6 344.1,424.5 345.1,423.6 346.2,422.8 347.4,422.4 348.6,422.3 349.8,422.5 351.0,423.1 352.0,423.9 353.0,424.9 353.9,426.0 354.7,427.3 355.5,428.5 356.2,429.9 356.8,431.2 357.4,432.6 358.0,433.9 358.6,435.3 359.1,436.7 359.6,438.1 360.1,439.6 360.6,441.0 361.0,442.4 361.4,443.9 361.9,445.3 362.3,446.8 362.6,448.2 363.0,449.7 363.4,451.1 363.7,452.6 364.1,454.0 364.5,455.5 364.8,456.9 365.2,458.4 365.5,459.8 365.9,461.3 366.3,462.7 366.7,464.2 367.0,465.7 367.4,467.1 367.7,468.6 368.0,470.0 368.4,471.5 368.7,473.0 369.0,474.4 369.2,475.9 369.5,477.4 369.8,478.9 370.1,480.3 370.4,481.8 370.7,483.3 370.9,484.8 371.2,486.2 371.5,487.7 371.8,489.2 372.1,490.6 372.4,492.1 372.7,493.6 373.0,495.1 373.3,496.5 373.5,498.0 373.8,499.5 374.1,500.9 374.4,502.4 374.7,503.9 375.0,505.4 375.3,506.8 375.6,508.3 375.9,509.8 376.2,511.2 376.5,512.7 376.8,514.2 377.0,515.7 377.3,517.1 377.6,518.6 377.9,520.1 378.1,521.6 378.4,523.0 378.6,524.5 378.9,526.0 379.2,527.5 379.4,528.9 379.7,530.4 379.9,531.9 380.2,533.4 380.5,534.9 380.7,536.3 381.0,537.8 381.3,539.3 381.5,540.8 381.8,542.2 382.1,543.7 382.4,545.2 382.6,546.7 382.9,548.1 383.2,549.6 383.5,551.1 383.8,552.5 384.1,554.0 384.4,555.5 384.7,557.0 385.0,558.4 385.3,559.9 385.6,561.4 385.9,562.8 386.2,564.3 386.5,565.8 386.8,567.2 387.2,568.7 387.5,570.2 387.8,571.6 388.1,573.1 388.5,574.6 388.8,576.0 389.1,577.5 389.5,578.9 389.8,580.4 390.2,581.9 390.5,583.3 390.9,584.8 391.2,586.2 391.6,587.7 391.9,589.1 392.3,590.6 392.6,592.1 393.0,593.5 393.3,595.0 393.7,596.4 394.0,597.9 394.4,599.4 394.7,600.8 395.1,602.3 395.4,603.7 395.8,605.2 396.1,606.7 396.5,608.1 396.8,609.6 397.2,611.0 397.5,612.5 397.9,613.9 398.2,615.4 398.6,616.9 399.0,618.3 399.4,619.7 399.8,621.2 400.2,622.6 400.6,624.1 401.1,625.5 401.5,626.9 401.9,628.4 402.4,629.8 402.8,631.2 403.3,632.7 403.7,634.1 404.2,635.5 404.7,636.9 405.2,638.4 405.7,639.8 406.3,641.2 406.8,642.5 407.4,643.9 408.0,645.3 408.7,646.6 409.4,648.0 410.1,649.3 410.8,650.6 411.6,651.9 412.3,653.2 413.2,654.4 414.0,655.7 414.9,656.9 415.7,658.1 416.6,659.3 417.6,660.5 418.5,661.6 419.5,662.8 420.5,663.9 421.5,665.1 422.5,666.2 423.5,667.2 424.6,668.3 425.7,669.3 426.8,670.3 427.9,671.3 429.1,672.2 430.3,673.0 431.6,673.9 432.8,674.7 434.1,675.4 435.4,676.2 436.8,676.8 438.1,677.5 439.5,678.1 440.9,678.7 442.3,679.2 443.7,679.7 445.1,680.2 446.5,680.6 448.0,681.0 449.4,681.3 450.9,681.6 452.4,681.8 453.9,682.1 455.4,682.2 456.9,682.4 458.3,682.5 459.8,682.7 461.3,682.8 462.8,682.9 464.3,683.0 465.8,683.0 467.3,683.1 468.8,683.2 470.3,683.3 471.8,683.4 473.3,683.5 474.8,683.5 476.3,683.6 477.8,683.7 479.3,683.7 480.8,683.8 482.3,683.9 483.8,683.9 485.3,684.0 486.8,684.0 488.3,684.0 489.8,684.1 491.3,684.1 492.8,684.1 494.3,684.2 495.8,684.2 497.3,684.2 498.8,684.3 500.3,684.3 501.8,684.3 503.3,684.4 504.8,684.4 506.3,684.4 507.8,684.5 509.3,684.5 510.8,684.5 512.3,684.6 513.8,684.6 515.3,684.6 516.8,684.7 518.3,684.7 519.8,684.7 521.3,684.7 522.8,684.8 524.3,684.8 525.8,684.8 527.3,684.8 528.8,684.9 530.3,684.9 531.8,684.9 533.3,684.9 534.8,685.0 536.3,685.0 537.8,685.0 539.3,685.0 540.8,685.0 542.3,685.1 543.8,685.1 545.3,685.1 546.8,685.1 548.3,685.2 549.8,685.2 551.2,685.2 552.7,685.2 554.1,685.3 555.5,685.3 556.0,685.3"/>
<path d="M99.2,775.3 L100.7,775.3 102.2,775.3 103.7,775.2 105.2,775.2 106.7,775.2 108.2,775.2 109.7,775.2 111.2,775.2 112.7,775.2 114.2,775.2 115.7,775.1 117.2,775.1 118.7,775.1 120.2,775.1 121.7,775.1 123.2,775.1 124.7,775.1 126.2,775.1 127.7,775.0 129.2,775.0 130.7,775.0 132.2,775.0 133.7,775.0 135.2,775.0 136.7,775.0 138.2,774.9 139.7,774.9 141.2,774.9 142.7,774.9 144.2,774.9 145.7,774.8 147.2,774.8 148.7,774.8 150.2,774.7 151.7,774.7 153.2,774.6 154.7,774.6 156.2,774.5 157.7,774.5 159.2,774.4 160.7,774.3 162.2,774.2 163.7,774.1 165.2,774.0 166.7,773.9 168.2,773.7 169.7,773.6 171.1,773.4 172.6,773.1 174.1,772.9 175.6,772.6 177.0,772.4 178.5,772.0 180.0,771.7 181.4,771.3 182.9,770.9 184.3,770.5 185.7,770.0 187.1,769.5 188.5,768.9 189.9,768.3 191.3,767.7 192.6,767.1 194.0,766.5 195.3,765.9 196.7,765.3 198.1,764.7 199.5,764.2 200.9,763.7 202.3,763.2 203.8,762.8 205.2,762.3 206.7,761.9 208.1,761.6 209.6,761.2 211.0,760.9 212.5,760.6 214.0,760.3 215.5,760.1 216.9,759.9 218.4,759.7 219.9,759.5 221.4,759.4 222.9,759.2 224.4,759.1 225.9,758.9 227.4,758.7 228.9,758.6 230.4,758.4 231.8,758.2 233.3,758.0 234.8,757.9 236.3,757.7 237.8,757.5 239.3,757.3 240.8,757.1 242.3,756.9 243.8,756.7 245.2,756.6 246.7,756.4 248.2,756.2 249.7,756.0 251.2,755.9 252.7,755.7 254.2,755.5 255.7,755.3 257.2,755.1 258.6,754.9 260.1,754.7 261.6,754.5 263.1,754.2 264.5,753.9 266.0,753.5 267.4,753.2 268.9,752.7 270.3,752.3 271.7,751.7 273.1,751.2 274.5,750.6 275.8,749.9 277.1,749.2 278.4,748.5 279.7,747.7 280.9,746.8 282.1,745.9 283.3,745.0 284.4,744.0 285.5,743.0 286.5,741.9 287.5,740.8 288.5,739.7 289.3,738.5 290.2,737.2 291.0,736.0 291.7,734.7 292.4,733.3 293.1,732.0 293.8,730.7 294.4,729.3 295.0,727.9 295.6,726.6 296.2,725.2 296.8,723.8 297.3,722.4 297.9,721.0 298.4,719.6 298.9,718.2 299.5,716.8 300.0,715.4 300.5,714.0 301.1,712.6 301.6,711.2 302.1,709.8 302.6,708.4 303.1,707.0 303.6,705.5 304.1,704.1 304.5,702.7 305.0,701.3 305.4,699.8 305.8,698.4 306.2,696.9 306.6,695.5 307.0,694.0 307.4,692.6 307.7,691.1 308.1,689.7 308.5,688.2 308.8,686.8 309.2,685.3 309.6,683.9 310.0,682.4 310.3,680.9 310.7,679.5 311.0,678.0 311.4,676.6 311.7,675.1 312.1,673.7 312.4,672.2 312.8,670.7 313.1,669.3 313.5,667.8 313.8,666.4 314.1,664.9 314.5,663.4 314.8,662.0 315.1,660.5 315.4,659.0 315.7,657.6 315.9,656.1 316.2,654.6 316.5,653.1 316.7,651.6 317.0,650.2 317.2,648.7 317.5,647.2 317.8,645.7 318.0,644.3 318.3,642.8 318.6,641.3 318.8,639.8 319.1,638.4 319.4,636.9 319.7,635.4 320.0,634.0 320.3,632.5 320.7,631.0 321.0,629.6 321.3,628.1 321.6,626.6 321.9,625.2 322.3,623.7 322.6,622.2 322.9,620.8 323.2,619.3 323.4,617.8 323.7,616.3 324.0,614.9 324.3,613.4 324.6,611.9 324.8,610.4 325.1,609.0 325.4,607.5 325.7,606.0 325.9,604.5 326.2,603.1 326.5,601.6 326.8,600.1 327.0,598.6 327.3,597.2 327.6,595.7 327.9,594.2 328.2,592.8 328.5,591.3 328.8,589.8 329.1,588.4 329.5,586.9 329.9,585.5 330.2,584.0 330.6,582.6 331.0,581.1 331.5,579.7 331.9,578.2 332.3,576.8 332.8,575.4 333.2,573.9 333.7,572.5 334.1,571.1 334.6,569.6 335.0,568.2 335.4,566.8 335.8,565.3 336.3,563.9 336.7,562.5 337.2,561.1 337.7,559.6 338.3,558.3 338.9,556.9 339.5,555.5 340.1,554.2 340.8,552.8 341.5,551.5 342.2,550.2 343.0,548.9 343.8,547.7 344.7,546.6 345.7,545.6 346.8,544.8 348.0,544.3 349.2,544.1 350.4,544.2 351.6,544.7 352.7,545.4 353.8,546.3 354.8,547.4 355.7,548.5 356.6,549.8 357.3,551.0 358.0,552.3 358.7,553.7 359.3,555.0 359.9,556.4 360.5,557.8 361.0,559.2 361.5,560.6 362.0,562.0 362.5,563.4 363.0,564.9 363.5,566.3 363.9,567.7 364.4,569.1 364.9,570.6 365.3,572.0 365.8,573.4 366.2,574.9 366.6,576.3 367.0,577.7 367.4,579.2 367.8,580.6 368.2,582.1 368.5,583.5 368.9,585.0 369.2,586.5 369.6,587.9 370.0,589.4 370.3,590.8 370.7,592.3 371.1,593.7 371.5,595.2 371.9,596.6 372.3,598.1 372.7,599.5 373.1,601.0 373.4,602.4 373.8,603.9 374.2,605.3 374.5,606.8 374.9,608.2 375.2,609.7 375.6,611.2 375.9,612.6 376.2,614.1 376.5,615.6 376.8,617.0 377.1,618.5 377.3,620.0 377.6,621.5 377.9,622.9 378.1,624.4 378.4,625.9 378.7,627.4 378.9,628.8 379.2,630.3 379.4,631.8 379.7,633.3 380.0,634.8 380.2,636.2 380.5,637.7 380.8,639.2 381.0,640.7 381.3,642.1 381.6,643.6 381.8,645.1 382.1,646.6 382.4,648.0 382.6,649.5 382.9,651.0 383.2,652.5 383.4,653.9 383.7,655.4 384.0,656.9 384.3,658.4 384.6,659.8 384.9,661.3 385.2,662.8 385.5,664.2 385.8,665.7 386.1,667.2 386.4,668.6 386.7,670.1 387.1,671.6 387.4,673.0 387.7,674.5 388.1,676.0 388.4,677.4 388.8,678.9 389.1,680.3 389.5,681.8 389.9,683.2 390.3,684.7 390.7,686.1 391.1,687.6 391.6,689.0 392.0,690.4 392.5,691.9 392.9,693.3 393.4,694.7 393.9,696.1 394.3,697.6 394.8,699.0 395.3,700.4 395.8,701.8 396.3,703.2 396.8,704.6 397.3,706.0 397.8,707.5 398.3,708.9 398.8,710.3 399.3,711.7 399.9,713.1 400.4,714.5 400.9,715.9 401.4,717.3 401.9,718.7 402.5,720.1 403.0,721.5 403.5,722.9 404.1,724.3 404.6,725.7 405.2,727.1 405.8,728.5 406.4,729.9 406.9,731.3 407.5,732.6 408.1,734.0 408.7,735.4 409.3,736.8 410.0,738.1 410.6,739.5 411.2,740.8 411.9,742.2 412.6,743.5 413.3,744.8 414.0,746.1 414.8,747.4 415.6,748.7 416.4,749.9 417.3,751.2 418.2,752.4 419.1,753.5 420.1,754.7 421.1,755.8 422.1,756.9 423.1,758.0 424.2,759.0 425.3,760.0 426.5,760.9 427.7,761.8 429.0,762.6 430.2,763.4 431.5,764.2 432.8,764.9 434.1,765.6 435.5,766.3 436.8,766.9 438.2,767.5 439.6,768.1 441.0,768.6 442.4,769.1 443.9,769.5 445.3,769.9 446.8,770.2 448.2,770.5 449.7,770.7 451.2,771.0 452.7,771.2 454.2,771.4 455.7,771.5 457.1,771.7 458.6,771.8 460.1,772.0 461.6,772.1 463.1,772.2 464.6,772.3 466.1,772.5 467.6,772.6 469.1,772.7 470.6,772.8 472.1,772.9 473.6,773.0 475.1,773.0 476.6,773.1 478.1,773.2 479.6,773.3 481.1,773.3 482.6,773.4 484.1,773.4 485.6,773.5 487.1,773.5 488.6,773.5 490.1,773.6 491.6,773.6 493.1,773.6 494.6,773.7 496.1,773.7 497.6,773.7 499.1,773.8 500.6,773.8 502.1,773.9 503.6,773.9 505.1,773.9 506.6,774.0 508.1,774.0 509.6,774.0 511.1,774.1 512.6,774.1 514.1,774.1 515.6,774.2 517.1,774.2 518.6,774.2 520.1,774.3 521.6,774.3 523.1,774.3 524.6,774.4 526.1,774.4 527.6,774.4 529.1,774.5 530.6,774.5 532.1,774.5 533.6,774.5 535.1,774.6 536.6,774.6 538.1,774.6 539.6,774.7 541.1,774.7 542.6,774.7 544.1,774.8 545.6,774.8 547.1,774.8 548.6,774.8 550.1,774.9 551.6,774.9 553.0,774.9 554.5,775.0 556.0,775.0"/>
</g>
<g stroke="#000" stroke-width="2.2">
<line x1="98.6" y1="783" x2="556" y2="783"/>
<line x1="99.7" y1="783" x2="99.7" y2="799"/><line x1="137.6" y1="783" x2="137.6" y2="791"/><line x1="175.5" y1="783" x2="175.5" y2="799"/><line x1="213.4" y1="783" x2="213.4" y2="791"/><line x1="251.3" y1="783" x2="251.3" y2="799"/><line x1="289.1" y1="783" x2="289.1" y2="791"/><line x1="327.0" y1="783" x2="327.0" y2="799"/><line x1="364.9" y1="783" x2="364.9" y2="791"/><line x1="402.8" y1="783" x2="402.8" y2="799"/><line x1="440.7" y1="783" x2="440.7" y2="791"/><line x1="478.6" y1="783" x2="478.6" y2="799"/><line x1="516.5" y1="783" x2="516.5" y2="791"/><line x1="554.4" y1="783" x2="554.4" y2="799"/>
</g>
<g stroke="#0000ff" stroke-width="1.8" fill="none">
<line x1="457.7" y1="525" x2="371.5" y2="578.8"/>
<polyline points="378.2,567.4 371,579 385,578.8"/>
</g>
<g stroke="#000" stroke-width="2.2" fill="none">
<line x1="816" y1="614" x2="1300.4" y2="614"/>
<line x1="844" y1="157.5" x2="844" y2="643"/>
<line x1="843" y1="158.5" x2="1300.4" y2="158.5"/>
<line x1="1299.4" y1="157.5" x2="1299.4" y2="643"/>
<line x1="843.8" y1="614" x2="843.8" y2="643"/><line x1="876.3" y1="614" x2="876.3" y2="628.5"/><line x1="908.9" y1="614" x2="908.9" y2="643"/><line x1="941.4" y1="614" x2="941.4" y2="628.5"/><line x1="974.0" y1="614" x2="974.0" y2="643"/><line x1="1006.5" y1="614" x2="1006.5" y2="628.5"/><line x1="1039.1" y1="614" x2="1039.1" y2="643"/><line x1="1071.6" y1="614" x2="1071.6" y2="628.5"/><line x1="1104.2" y1="614" x2="1104.2" y2="643"/><line x1="1136.7" y1="614" x2="1136.7" y2="628.5"/><line x1="1169.2" y1="614" x2="1169.2" y2="643"/><line x1="1201.8" y1="614" x2="1201.8" y2="628.5"/><line x1="1234.3" y1="614" x2="1234.3" y2="643"/><line x1="1266.9" y1="614" x2="1266.9" y2="628.5"/><line x1="1299.4" y1="614" x2="1299.4" y2="643"/><line x1="816" y1="614.0" x2="844" y2="614.0"/><line x1="830.5" y1="568.5" x2="844" y2="568.5"/><line x1="816" y1="522.9" x2="844" y2="522.9"/><line x1="830.5" y1="477.4" x2="844" y2="477.4"/><line x1="816" y1="431.8" x2="844" y2="431.8"/><line x1="830.5" y1="386.2" x2="844" y2="386.2"/><line x1="816" y1="340.7" x2="844" y2="340.7"/><line x1="830.5" y1="295.2" x2="844" y2="295.2"/><line x1="816" y1="249.6" x2="844" y2="249.6"/><line x1="830.5" y1="204.1" x2="844" y2="204.1"/><line x1="816" y1="158.5" x2="844" y2="158.5"/>
</g>
<polyline points="843.8,158.5 876.3,194.9 908.9,235.9 961.0,290.6 1117.2,445.5 1136.7,454.6 1253.9,513.8" fill="none" stroke="#000000" stroke-width="1.6"/><rect x="838.8" y="153.5" width="10" height="10" fill="#000000"/><rect x="871.3" y="189.9" width="10" height="10" fill="#000000"/><rect x="903.9" y="230.9" width="10" height="10" fill="#000000"/><rect x="956.0" y="285.6" width="10" height="10" fill="#000000"/><rect x="1112.2" y="440.5" width="10" height="10" fill="#000000"/><rect x="1131.7" y="449.6" width="10" height="10" fill="#000000"/><rect x="1248.9" y="508.8" width="10" height="10" fill="#000000"/>
<polyline points="843.8,614.0 876.3,604.9 908.9,591.2 961.0,573.0 1117.2,591.2 1136.7,595.8 1253.9,604.9" fill="none" stroke="#0000ff" stroke-width="1.6"/><rect x="838.8" y="609.0" width="10" height="10" fill="#0000ff"/><rect x="871.3" y="599.9" width="10" height="10" fill="#0000ff"/><rect x="903.9" y="586.2" width="10" height="10" fill="#0000ff"/><rect x="956.0" y="568.0" width="10" height="10" fill="#0000ff"/><rect x="1112.2" y="586.2" width="10" height="10" fill="#0000ff"/><rect x="1131.7" y="590.8" width="10" height="10" fill="#0000ff"/><rect x="1248.9" y="599.9" width="10" height="10" fill="#0000ff"/>
<polyline points="843.8,614.0 876.3,586.7 908.9,559.3 961.0,522.9 1117.2,349.8 1136.7,336.1 1253.9,267.8" fill="none" stroke="#ff0000" stroke-width="1.6"/><rect x="838.8" y="609.0" width="10" height="10" fill="#ff0000"/><rect x="871.3" y="581.7" width="10" height="10" fill="#ff0000"/><rect x="903.9" y="554.3" width="10" height="10" fill="#ff0000"/><rect x="956.0" y="517.9" width="10" height="10" fill="#ff0000"/><rect x="1112.2" y="344.8" width="10" height="10" fill="#ff0000"/><rect x="1131.7" y="331.1" width="10" height="10" fill="#ff0000"/><rect x="1248.9" y="262.8" width="10" height="10" fill="#ff0000"/>
<rect x="1038" y="175.5" width="10" height="10" fill="#000"/>
<rect x="1039" y="214.7" width="10" height="10" fill="#0000ff"/>
<rect x="1039" y="253" width="10" height="10" fill="#ff0000"/>
<text transform="translate(2.45,14.93) scale(0.9262,1)" font-size="17.46">31</text>
<text transform="translate(23.27,23.60) scale(0.9369,1)" font-size="28.41">P MAS NMR</text>
<text transform="translate(2.27,56.60) scale(0.9556,1)" font-size="27.83">9.4 T, 10 kHz</text>
<text transform="translate(75.90,524.96) rotate(-90) scale(0.9742,1)" font-size="26.96">Intensity (a.u.)</text>
<text transform="translate(535.41,259.70) scale(0.9673,1)" font-size="23.19">N/P = 0.63</text>
<text transform="translate(535.41,398.10) scale(0.9673,1)" font-size="23.19">N/P = 0.45</text>
<text transform="translate(535.40,467.30) scale(0.9634,1)" font-size="23.33">N/P = 0.42</text>
<text transform="translate(535.41,607.30) scale(0.9613,1)" font-size="23.33">N/P = 0.18</text>
<text transform="translate(535.41,677.70) scale(0.9613,1)" font-size="23.33">N/P = 0.10</text>
<text transform="translate(535.41,769.90) scale(0.9795,1)" font-size="22.90">N/P = 0.05</text>
<text transform="translate(86.49,826.16) scale(0.9506,1)" font-size="23.80">10</text>
<text transform="translate(168.66,826.16) scale(0.8840,1)" font-size="23.80">0</text>
<text transform="translate(233.99,826.16) scale(0.9537,1)" font-size="23.80">-10</text>
<text transform="translate(308.95,826.16) scale(1.0028,1)" font-size="23.80">-20</text>
<text transform="translate(385.28,826.16) scale(0.9629,1)" font-size="23.80">-30</text>
<text transform="translate(461.79,826.16) scale(0.9537,1)" font-size="23.80">-40</text>
<text transform="translate(538.20,826.16) scale(0.9445,1)" font-size="23.80">-50</text>
<text transform="translate(195.82,859.27) scale(1.0197,1)" font-size="23.24">Chemical shift</text>
<text transform="translate(354.27,853.60) scale(1.3051,1)" font-size="10.14">31</text>
<text transform="translate(372.45,859.50) scale(1.0462,1)" font-size="23.33">P (ppm)</text>
<text transform="translate(785.13,621.48) scale(1.1142,1)" font-size="21.69">0</text>
<text transform="translate(769.69,530.38) scale(1.2068,1)" font-size="21.69">20</text>
<text transform="translate(770.49,439.28) scale(1.1724,1)" font-size="21.69">40</text>
<text transform="translate(769.69,348.18) scale(1.2068,1)" font-size="21.69">60</text>
<text transform="translate(769.96,257.08) scale(1.1951,1)" font-size="21.69">80</text>
<text transform="translate(755.21,165.98) scale(1.2017,1)" font-size="21.69">100</text>
<text text-anchor="middle" transform="translate(843.00,680.55) scale(1.0622,1)" font-size="24.51">0.0</text>
<text text-anchor="middle" transform="translate(908.09,680.55) scale(1.0622,1)" font-size="24.51">0.1</text>
<text text-anchor="middle" transform="translate(973.18,680.55) scale(1.0622,1)" font-size="24.51">0.2</text>
<text text-anchor="middle" transform="translate(1038.27,680.55) scale(1.0622,1)" font-size="24.51">0.3</text>
<text text-anchor="middle" transform="translate(1103.36,680.55) scale(1.0622,1)" font-size="24.51">0.4</text>
<text text-anchor="middle" transform="translate(1168.45,680.55) scale(1.0622,1)" font-size="24.51">0.5</text>
<text text-anchor="middle" transform="translate(1233.54,680.55) scale(1.0622,1)" font-size="24.51">0.6</text>
<text text-anchor="middle" transform="translate(1298.63,680.55) scale(1.0622,1)" font-size="24.51">0.7</text>
<text transform="translate(1009.93,729.30) scale(1.0913,1)" font-size="29.42">N/P ratio</text>
<text transform="translate(708.00,512.76) rotate(-90) scale(0.9720,1)" font-size="32.46">% P(O,N)</text>
<text transform="translate(714.53,377.37) rotate(-90) scale(0.7966,1)" font-size="23.38">4</text>
<text transform="translate(707.53,354.67) rotate(-90) scale(1.0618,1)" font-size="29.87">groups</text>
<text transform="translate(188.86,478.90) scale(1.0455,1)" font-size="32.75" style="fill:#0000ff">PO</text>
<text transform="translate(239.24,485.89) scale(1.0379,1)" font-size="20.70" style="fill:#0000ff">3</text>
<text transform="translate(251.66,478.90) scale(1.0468,1)" font-size="32.75" style="fill:#0000ff">N</text>
<text transform="translate(79.04,554.00) scale(1.0341,1)" font-size="33.33" style="fill:#0000ff">PO</text>
<text transform="translate(128.53,561.50) scale(1.0598,1)" font-size="24.00" style="fill:#0000ff">2</text>
<text transform="translate(142.27,554.00) scale(0.9857,1)" font-size="33.33" style="fill:#0000ff">N</text>
<text transform="translate(166.22,561.50) scale(0.9873,1)" font-size="24.00" style="fill:#0000ff">2</text>
<text transform="translate(470.88,536.40) scale(1.0708,1)" font-size="32.90" style="fill:#0000ff">PO</text>
<text transform="translate(521.39,544.04) scale(0.8696,1)" font-size="23.68" style="fill:#0000ff">4</text>
<text transform="translate(1056.55,186.50) scale(0.9604,1)" font-size="24.06">PO</text>
<text transform="translate(1093.23,193.75) scale(0.8889,1)" font-size="15.44">4</text>
<text transform="translate(1056.57,225.20) scale(0.9745,1)" font-size="23.48" style="fill:#0000ff">PO</text>
<text transform="translate(1093.30,232.46) scale(1.0902,1)" font-size="13.66" style="fill:#0000ff">3</text>
<text transform="translate(1101.34,225.20) scale(0.9355,1)" font-size="23.48" style="fill:#0000ff">N</text>
<text transform="translate(1056.57,264.10) scale(1.0055,1)" font-size="22.75" style="fill:#ff0000">PO</text>
<text transform="translate(1092.67,271.60) scale(1.0511,1)" font-size="13.86" style="fill:#ff0000">2</text>
<text transform="translate(1101.34,264.10) scale(0.9653,1)" font-size="22.75" style="fill:#ff0000">N</text>
<text transform="translate(1119.58,271.60) scale(1.1766,1)" font-size="13.86" style="fill:#ff0000">2</text>
</svg>
</body></html>
